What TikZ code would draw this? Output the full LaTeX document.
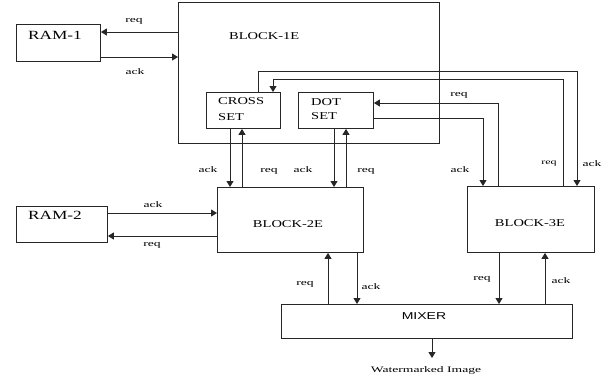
\documentclass[tikz,border=0pt]{standalone}
\usepackage{fontspec}
\setmainfont{Liberation Serif}
\newfontfamily\bigser[FakeStretch=1.38]{Liberation Serif}
\newfontfamily\smlser[FakeStretch=1.6]{Liberation Serif}
\newfontfamily\mixsans[FakeStretch=1.4]{Liberation Sans}
\usetikzlibrary{arrows.meta}
\begin{document}
\begin{tikzpicture}[x=1pt,y=-1pt,
  box/.style={draw=black!85, line width=0.9pt, inner sep=0pt, anchor=north west},
  conn/.style={draw=black!85, line width=0.9pt, -{Triangle[length=6pt,width=7pt]}},
  lab/.style={font=\smlser\fontsize{8.5}{10}\selectfont, inner sep=0pt, anchor=base},
  ttl/.style={font=\bigser\fontsize{10.5}{12}\selectfont, inner sep=0pt, anchor=base west},
  ttlc/.style={font=\bigser\fontsize{10.5}{12}\selectfont, inner sep=0pt, anchor=base},
  ramt/.style={font=\bigser\fontsize{12.5}{14}\selectfont, inner sep=0pt, anchor=base west},
  mixt/.style={font=\mixsans\fontsize{10}{12}\selectfont, inner sep=0pt, anchor=base},
]
\useasboundingbox (0,0) rectangle (616,381);
\fill[white] (0,0) rectangle (616,381);

% boxes
\node[box, minimum width=84pt,  minimum height=37pt]  (ram1)  at (16,24)   {};
\node[box, minimum width=261pt, minimum height=141pt] (b1)    at (178,2)   {};
\node[box, minimum width=74pt,  minimum height=36pt]  (cross) at (206,92)  {};
\node[box, minimum width=75pt,  minimum height=36pt]  (dot)   at (298,92)  {};
\node[box, minimum width=146pt, minimum height=65pt]  (b2)    at (217,187) {};
\node[box, minimum width=91pt,  minimum height=36pt]  (ram2)  at (16,206)  {};
\node[box, minimum width=127pt, minimum height=66pt]  (b3)    at (467,186) {};
\node[box, minimum width=291pt, minimum height=34pt]  (mixer) at (281,304) {};

% box texts
\node[ramt] (ram1t) at (28,39) {RAM-1};
\node[ramt] (ram2t) at (28,219) {RAM-2};
\node[ttl] (b1t) at (229,39) {BLOCK-1E};
\node[ttl] (crosst1) at (218,104) {CROSS};
\node[ttl] (crosst2) at (218,120) {SET};
\node[ttl] (dott1) at (311,105) {DOT};
\node[ttl] (dott2) at (311,119) {SET};
\node[ttlc] (b2t) at (288,227) {BLOCK-2E};
\node[ttlc] (b3t) at (530,226) {BLOCK-3E};
\node[mixt] (mixt) at (424,319) {MIXER};
\node[lab] (out) at (426,372) {Watermarked Image};
\coordinate (outtip) at (432,358);

% connectors
\draw[conn] (b1.west |- 0,32) -- (ram1.east |- 0,32);
\draw[conn] (ram1.east |- 0,57) -- (b1.west |- 0,57);
\draw[conn] (cross.south -| 230,0) -- (b2.north -| 230,0);
\draw[conn] (b2.north -| 242,0) -- (cross.south -| 242,0);
\draw[conn] (dot.south -| 334,0) -- (b2.north -| 334,0);
\draw[conn] (b2.north -| 346,0) -- (dot.south -| 346,0);
\draw[conn] (cross.north -| 258,0) -- ++(0,-21) -| (b3.north -| 577,0);
\draw[conn] (b3.north -| 563,0) -- ++(0,-107) -| (cross.north -| 273,0);
\draw[conn] (b3.north -| 498,0) |- (dot.east |- 0,103);
\draw[conn] (dot.east |- 0,118) -| (b3.north -| 483,0);
\draw[conn] (ram2.east |- 0,213) -- (b2.west |- 0,213);
\draw[conn] (b2.west |- 0,236) -- (ram2.east |- 0,236);
\draw[conn] (mixer.north -| 328,0) -- (b2.south -| 328,0);
\draw[conn] (b2.south -| 357,0) -- (mixer.north -| 357,0);
\draw[conn] (b3.south -| 499,0) -- (mixer.north -| 499,0);
\draw[conn] (mixer.north -| 545,0) -- (b3.south -| 545,0);
\draw[conn] (mixer.south -| 432,0) -- (outtip);

% labels
\node[lab] (l1) at (134,22) {req};
\node[lab] (l2) at (135,74) {ack};
\node[lab] (l3) at (208,172) {ack};
\node[lab] (l4) at (269,172) {req};
\node[lab] (l5) at (303,172) {ack};
\node[lab] (l6) at (366,172) {req};
\node[lab] (l7) at (459,96) {req};
\node[lab] (l8) at (460,172) {ack};
\node[lab, font=\smlser\fontsize{7.5}{9}\selectfont] (l9) at (549,164) {req};
\node[lab] (l10) at (592,166) {ack};
\node[lab] (l11) at (153,207) {ack};
\node[lab] (l12) at (152,246) {req};
\node[lab] (l13) at (305,285) {req};
\node[lab] (l14) at (371,289) {ack};
\node[lab] (l15) at (482,280) {req};
\node[lab] (l16) at (561,283) {ack};
\end{tikzpicture}
\end{document}
